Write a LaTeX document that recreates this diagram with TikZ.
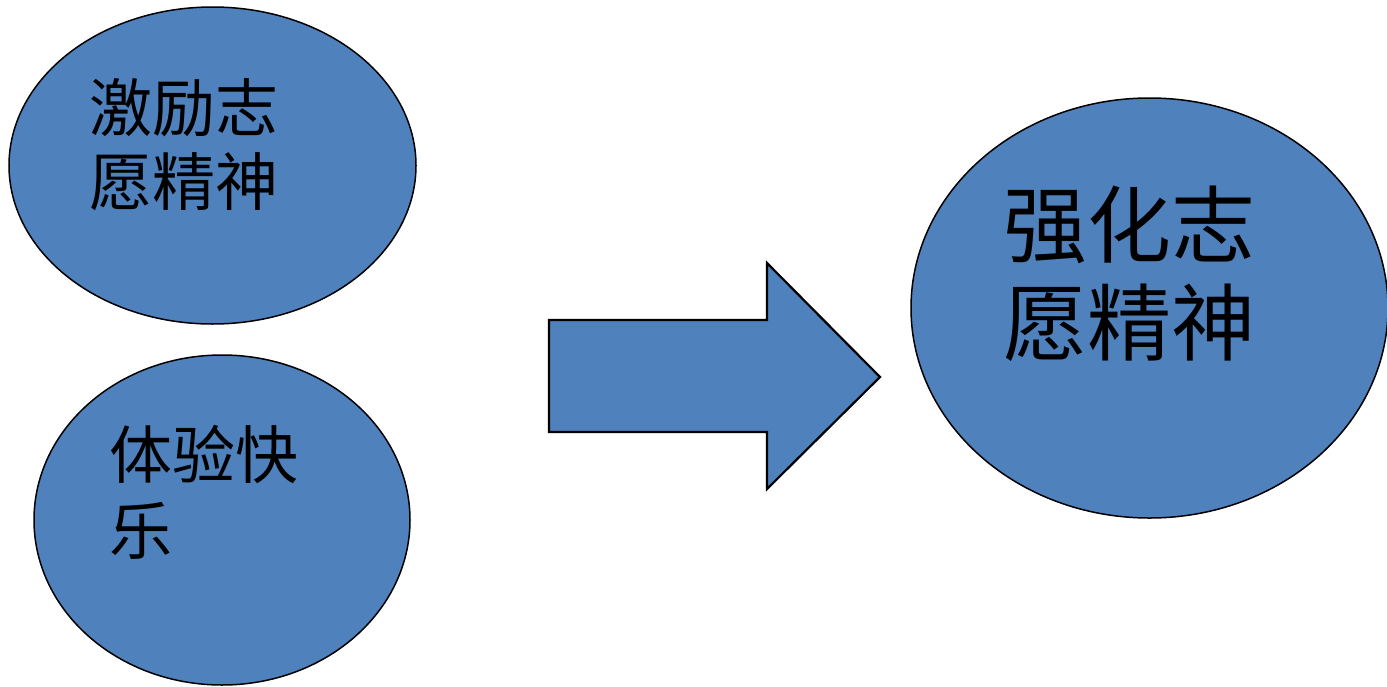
\documentclass[tikz,border=0pt]{standalone}
\usepackage{fontspec}
\newfontfamily\cjk{Noto Sans CJK SC}
\usetikzlibrary{shapes.geometric}
\definecolor{blobfill}{HTML}{4F81BD}
\tikzset{
  blob/.style={ellipse, draw=black, line width=1.5pt, fill=blobfill, inner sep=0pt},
  lbl/.style={anchor=north west, inner sep=0pt, align=left, text=black},
  arrowshape/.style={draw=black, line width=2.2pt, fill=blobfill, line join=miter}
}
\begin{document}
\begin{tikzpicture}[x=1pt, y=-1pt]
\useasboundingbox (0,0) rectangle (1387,686);
\node[blob, minimum width=407pt, minimum height=317pt] (e1) at (212.5,165.5) {};
\node[blob, minimum width=376pt, minimum height=330pt] (e2) at (222,520) {};
\node[blob, minimum width=477pt, minimum height=420pt] (e3) at (1149.5,308) {};
\draw[arrowshape] (549,320) -- (767,320) -- (767,263) -- (880,377) -- (767,489) -- (767,432) -- (549,432) -- cycle;
\node[lbl, font=\cjk\fontsize{63}{74}\selectfont] (t1) at (89,78) {激励志\\愿精神};
\node[lbl, font=\cjk\fontsize{63}{76}\selectfont] (t2) at (109,425) {体验快\\乐};
\node[lbl, font=\cjk\fontsize{84}{98}\selectfont] (t3) at (1003,186) {强化志\\愿精神};
\end{tikzpicture}
\end{document}
